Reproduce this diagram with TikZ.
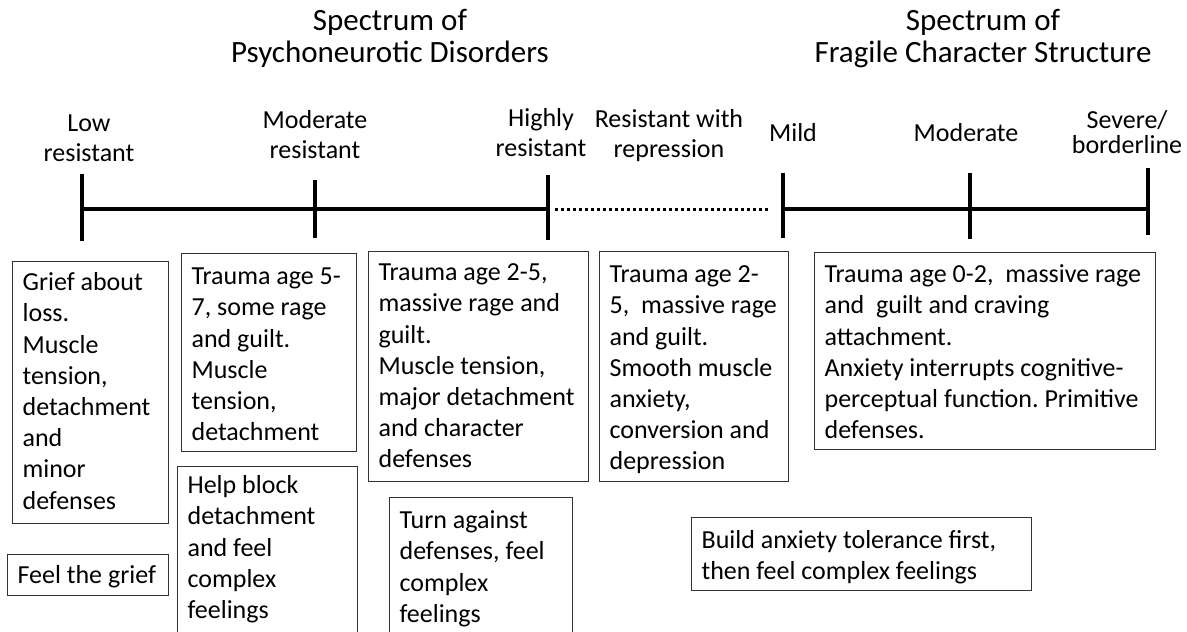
\documentclass[tikz,border=0pt]{standalone}
\usepackage{fontspec}
\setmainfont{Carlito}
\frenchspacing
\newcommand\bodyfont{\fontsize{26}{31.2}\selectfont}
\newcommand\lblfont{\fontsize{26}{30}\selectfont}
\newcommand\tightlblfont{\fontsize{26}{24}\selectfont}
\newcommand\titlefont{\fontsize{31}{32}\selectfont}
% \bt{width}{height}{top gap}{lines}
\newcommand\bt[4]{\parbox[c][#2pt][t]{#1pt}{\vspace*{#3pt}\begin{tabular}[t]{@{}l@{}}#4\end{tabular}}}
\newcommand\ct[1]{\begin{tabular}[t]{@{}c@{}}#1\end{tabular}}
\begin{document}
\begin{tikzpicture}[x=1pt,y=-1pt,
  bx/.style={draw=black!80, line width=1.2pt, inner xsep=10pt, inner ysep=0pt, anchor=north west, font=\bodyfont},
  lbl/.style={font=\lblfont, inner sep=0pt, anchor=base},
  ttl/.style={font=\titlefont, inner sep=0pt, anchor=base},
  axis/.style={line width=3.4pt},
  dotaxis/.style={line width=3pt, dash pattern=on 3pt off 3pt},
  tickline/.style={line width=3.4pt}]
\clip (0,0) rectangle (1187,632);
\fill[white] (0,0) rectangle (1187,632);

% titles
\node[ttl] (ttl1) at (390,30) {\ct{Spectrum of\\Psychoneurotic Disorders}};
\node[ttl] (ttl2) at (983,30) {\ct{Spectrum of\\Fragile Character Structure}};

% scale labels
\node[lbl] (lowl) at (89,131) {\ct{Low\\resistant}};
\node[lbl] (modl) at (315,128) {\ct{Moderate\\resistant}};
\node[lbl] (hil) at (541,126) {\ct{Highly\\resistant}};
\node[lbl] (repl) at (669,127) {\ct{Resistant with\\repression}};
\node[lbl] (mildl) at (793,141) {Mild};
\node[lbl] (mod2l) at (966,141) {Moderate};
\node[lbl, font=\tightlblfont] (sevl) at (1127,128) {\ct{Severe/\\borderline}};

% timeline
\coordinate (t1) at (82,209);
\coordinate (t2) at (315,209);
\coordinate (t3) at (548,209);
\coordinate (t4) at (783,209);
\coordinate (t5) at (970,209);
\coordinate (t6) at (1148,209);
\coordinate (d1) at (555,209);
\coordinate (d2) at (770,209);
\draw[axis] (t1) -- (t3);
\draw[dotaxis] (d1) -- (d2);
\draw[axis] (t4) -- (t6);
\draw[tickline] ([yshift=35pt]t1) -- ([yshift=-32pt]t1);
\draw[tickline] ([yshift=29pt]t2) -- ([yshift=-29pt]t2);
\draw[tickline] ([yshift=34pt]t3) -- ([yshift=-31pt]t3);
\draw[tickline] ([yshift=36pt]t4) -- ([yshift=-29pt]t4);
\draw[tickline] ([yshift=36pt]t5) -- ([yshift=-30pt]t5);
\draw[tickline] ([yshift=41pt]t6) -- ([yshift=-26pt]t6);

% boxes
\node[bx] (ba) at (12,261) {\bt{136}{262}{7.2}{Grief about\\loss.\\Muscle\\tension,\\detachment\\and\\minor\\defenses}};
\node[bx] (bb) at (7,554) {\bt{141}{41}{7.2}{Feel the grief}};
\node[bx] (bc) at (181,253) {\bt{155}{198}{9.2}{Trauma age 5-\\7, some rage\\and guilt.\\Muscle\\tension,\\detachment}};
\node[bx] (bd) at (177,466) {\bt{160}{200}{5.2}{Help block\\detachment\\and feel\\complex\\feelings}};
\node[bx] (be) at (368,251) {\bt{200}{230}{7.2}{Trauma age 2-5,\\massive rage and\\guilt.\\Muscle tension,\\major detachment\\and character\\defenses}};
\node[bx] (bf) at (389,497) {\bt{163}{200}{9.2}{Turn against\\defenses, feel\\complex\\feelings}};
\node[bx] (bg) at (599,251) {\bt{169}{230}{9.2}{Trauma age 2-\\5,\ \ massive rage\\and guilt.\\Smooth muscle\\anxiety,\\conversion and\\depression}};
\node[bx] (bh) at (814,252) {\bt{321}{197}{8.2}{Trauma age 0-2,\ \ massive rage\\and\ \ guilt and craving\\attachment.\\Anxiety interrupts cognitive-\\perceptual function. Primitive\\defenses.}};
\node[bx] (bi) at (691,517) {\bt{320}{73}{9.2}{Build anxiety tolerance first,\\then feel complex feelings}};
\end{tikzpicture}
\end{document}
